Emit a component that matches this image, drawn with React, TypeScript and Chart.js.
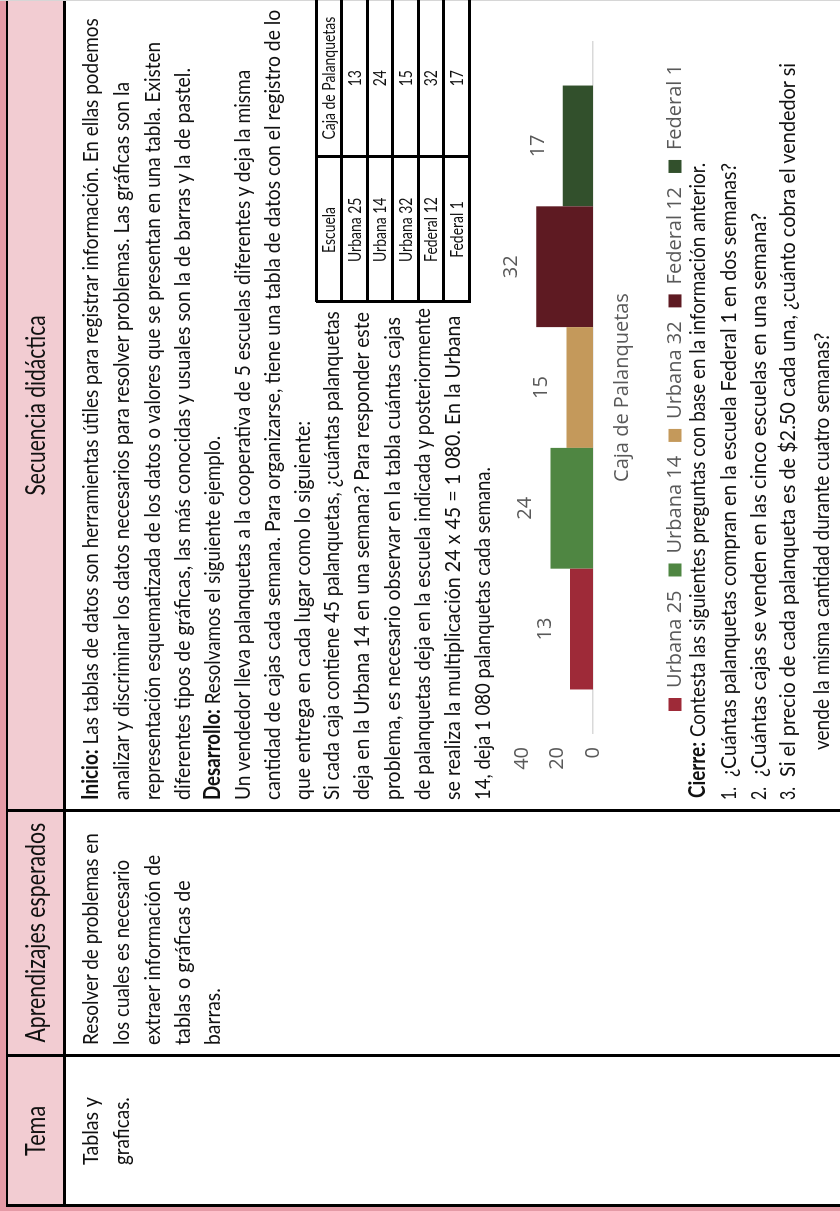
import React, { useEffect, useLayoutEffect, useRef, useState } from "react";
import { Chart, registerables } from "chart.js";

Chart.register(...registerables);

// ---------- data ----------
const schools = ["Urbana 25", "Urbana 14", "Urbana 32", "Federal 12", "Federal 1"];
const boxesPerWeek = [13, 24, 15, 32, 17];
const categoryLabels = ["Caja de Palanquetas"];
const yTickValues = [0, 20, 40];
const tableHeader = ["Escuela", "Caja de Palanquetas"];
const barColors = ["#9E2A38", "#4F8642", "#C4995B", "#5E1A22", "#32502C"];

const FONT = '"Lato", "Open Sans", sans-serif';
const CHART_FONT = '"Open Sans", sans-serif';
const GRAY = "#595959";

type TxtProps = {
  x: number;
  y: number;
  w?: number;
  size?: number;
  k?: number;
  center?: boolean;
  lh?: number;
  children: React.ReactNode;
};

function Txt({ x, y, w, size = 22, k = 0.78, center = false, lh = 30, children }: TxtProps) {
  const ref = useRef<HTMLSpanElement>(null);
  const [s, setS] = useState<number>(k);
  useLayoutEffect(() => {
    let alive = true;
    const fit = () => {
      if (!alive) return;
      if (w && ref.current) {
        const nat = ref.current.offsetWidth;
        if (nat > 0) setS(w / nat);
      }
    };
    fit();
    const f = (document as any).fonts;
    if (f && f.ready) f.ready.then(fit);
    return () => {
      alive = false;
    };
  }, [w]);
  const spanStyle: React.CSSProperties = {
    display: "inline-block",
    fontSize: size,
    transform: `scaleX(${s})`,
    transformOrigin: center ? "50% 50%" : "0 50%",
  };
  if (center) {
    return (
      <div
        style={{
          position: "absolute",
          left: x - 300,
          width: 600,
          top: y - lh / 2,
          height: lh,
          lineHeight: lh + "px",
          textAlign: "center",
          whiteSpace: "nowrap",
        }}
      >
        <span ref={ref} style={spanStyle}>
          {children}
        </span>
      </div>
    );
  }
  return (
    <div
      style={{
        position: "absolute",
        left: x,
        top: y - lh / 2,
        height: lh,
        lineHeight: lh + "px",
        whiteSpace: "nowrap",
      }}
    >
      <span ref={ref} style={spanStyle}>
        {children}
      </span>
    </div>
  );
}

function Rect({ x, y, w, h, c }: { x: number; y: number; w: number; h: number; c: string }) {
  return <div style={{ position: "absolute", left: x, top: y, width: w, height: h, background: c }} />;
}

function BarChart() {
  const ref = useRef<HTMLCanvasElement>(null);
  useEffect(() => {
    if (!ref.current) return;
    let alive = true;
    const valueLabels = {
      id: "valueLabels",
      afterDatasetsDraw(chart: any) {
        const { ctx } = chart;
        ctx.save();
        ctx.font = `20px ${CHART_FONT}`;
        ctx.fillStyle = GRAY;
        ctx.textAlign = "center";
        ctx.textBaseline = "middle";
        chart.data.datasets.forEach((ds: any, i: number) => {
          const meta = chart.getDatasetMeta(i);
          meta.data.forEach((el: any, j: number) => {
            ctx.fillText(String(ds.data[j]), el.x, el.y - 25);
          });
        });
        ctx.restore();
      },
    };
    const chart = new Chart(ref.current, {
      type: "bar",
      data: {
        labels: categoryLabels,
        datasets: schools.map((s, i) => ({
          label: s,
          data: [boxesPerWeek[i]],
          backgroundColor: barColors[i],
          borderWidth: 0,
          categoryPercentage: 0.874,
          barPercentage: 1,
        })),
      },
      options: {
        animation: false,
        responsive: true,
        maintainAspectRatio: false,
        layout: { padding: { top: 32, left: 0, right: 0, bottom: 0 } },
        plugins: {
          legend: {
            position: "bottom",
            labels: {
              boxWidth: 13,
              boxHeight: 13,
              padding: 14,
              color: GRAY,
              font: { family: CHART_FONT, size: 20 },
            },
          },
          tooltip: { enabled: false },
        },
        scales: {
          x: {
            grid: { display: false, drawTicks: false },
            border: { display: true, color: "#d9d9d9", width: 1.5 },
            ticks: { color: GRAY, font: { family: CHART_FONT, size: 20 }, padding: 17, maxRotation: 0 },
          },
          y: {
            min: 0,
            max: 40,
            afterBuildTicks: (s: any) => {
              s.ticks = yTickValues.map((v) => ({ value: v }));
            },
            grid: { display: false, drawTicks: false },
            border: { display: false },
            ticks: { color: GRAY, font: { family: CHART_FONT, size: 20 }, padding: 14 },
            afterFit: (s: any) => {
              s.width = 37;
            },
          },
          y2: {
            position: "right",
            grid: { display: false, drawTicks: false },
            border: { display: false },
            ticks: { display: false },
            afterFit: (s: any) => {
              s.width = 37;
            },
          },
        },
      } as any,
      plugins: [valueLabels],
    });
    const f = (document as any).fonts;
    if (f && f.ready)
      f.ready.then(() => {
        if (alive) chart.update();
      });
    return () => {
      alive = false;
      chart.destroy();
    };
  }, []);
  return (
    <div style={{ position: "absolute", left: 441, top: 490, width: 765, height: 205 }}>
      <canvas ref={ref} />
    </div>
  );
}

function DataTable() {
  const rowsY = [316, 341, 367, 392, 418, 443, 469];
  const x0 = 909;
  const xm = 1054;
  const x1 = 1211;
  const rows = [tableHeader, ...schools.map((s, i) => [s, String(boxesPerWeek[i])])];
  return (
    <>
      {rowsY.map((y, i) => (
        <Rect key={"h" + i} x={x0} y={y - 1} w={x1 - x0} h={i === 0 || i === rowsY.length - 1 ? 3 : 2.5} c="#000" />
      ))}
      <Rect x={x0 - 1} y={rowsY[0]} w={3} h={rowsY[6] - rowsY[0] + 2} c="#000" />
      <Rect x={xm - 1} y={rowsY[0]} w={3} h={rowsY[6] - rowsY[0] + 2} c="#000" />
      {rows.map((r, i) => {
        const yc = (rowsY[i] + rowsY[i + 1]) / 2;
        return (
          <React.Fragment key={"r" + i}>
            <Txt x={(x0 + xm) / 2} y={yc} size={17} k={0.82} center lh={25}>
              {r[0]}
            </Txt>
            <Txt x={(xm + x1) / 2} y={yc} size={17} k={0.82} center lh={25}>
              {r[1]}
            </Txt>
          </React.Fragment>
        );
      })}
    </>
  );
}

export default function App() {
  const X = 411;
  return (
    <div
      style={{
        position: "fixed",
        left: 0,
        top: 0,
        width: 1211,
        height: 840,
        transformOrigin: "0 0",
        transform: "translateY(1211px) rotate(-90deg)",
        fontFamily: FONT,
        color: "#111",
        background: "#fff",
        overflow: "hidden",
      }}
    >
      {/* frame */}
      <Rect x={0} y={0} w={1211} h={840} c="#fff" />
      <Rect x={0} y={0} w={1211} h={6} c="#E59AA6" />
      <Rect x={0} y={0} w={5} h={840} c="#E59AA6" />
      <Rect x={6} y={8} w={1205} h={56} c="#F2CCD2" />
      <Rect x={5} y={6} w={1206} h={2} c="#000" />
      <Rect x={5} y={63} w={1206} h={3} c="#000" />
      <Rect x={4} y={6} w={2.5} h={834} c="#000" />
      <Rect x={153.5} y={6} w={3} h={834} c="#000" />
      <Rect x={398.5} y={6} w={3} h={834} c="#000" />
      <Rect x={1210} y={0} w={1} h={840} c="#d6d6d6" />

      {/* headers */}
      <Txt x={80} y={35} w={50} size={26} center>
        Tema
      </Txt>
      <Txt x={278} y={35} w={220} size={26} center>
        Aprendizajes esperados
      </Txt>
      <Txt x={806} y={35} w={180} size={26} center>
        Secuencia didáctica
      </Txt>

      {/* Tema */}
      <Txt x={46} y={90} w={68}>Tablas y</Txt>
      <Txt x={46} y={121} w={68}>graficas.</Txt>

      {/* Aprendizajes */}
      <Txt x={166} y={90} w={212}>Resolver de problemas en</Txt>
      <Txt x={166} y={121} w={185}>los cuales es necesario</Txt>
      <Txt x={166} y={152} w={190}>extraer información de</Txt>
      <Txt x={166} y={182} w={165}>tablas o gráficas de</Txt>
      <Txt x={166} y={212} w={57}>barras.</Txt>

      {/* Secuencia */}
      <Txt x={X} y={90} w={782}>
        <b>Inicio:</b> Las tablas de datos son herramientas útiles para registrar información. En ellas podemos
      </Txt>
      <Txt x={X} y={121} w={718}>
        analizar y discriminar los datos necesarios para resolver problemas. Las gráficas son la
      </Txt>
      <Txt x={X} y={152} w={758}>
        representación esquematizada de los datos o valores que se presentan en una tabla. Existen
      </Txt>
      <Txt x={X} y={182} w={732}>
        diferentes tipos de gráficas, las más conocidas y usuales son la de barras y la de pastel.
      </Txt>
      <Txt x={X} y={212} w={364}>
        <b>Desarrollo:</b> Resolvamos el siguiente ejemplo.
      </Txt>
      <Txt x={X} y={242} w={730}>
        Un vendedor lleva palanquetas a la cooperativa de 5 escuelas diferentes y deja la misma
      </Txt>
      <Txt x={X} y={272} w={790}>
        cantidad de cajas cada semana. Para organizarse, tiene una tabla de datos con el registro de lo
      </Txt>
      <Txt x={X} y={302} w={379}>
        que entrega en cada lugar como lo siguiente:
      </Txt>
      <Txt x={X} y={331} w={489}>
        Si cada caja contiene 45 palanquetas, ¿cuántas palanquetas
      </Txt>
      <Txt x={X} y={361} w={488}>
        deja en la Urbana 14 en una semana? Para responder este
      </Txt>
      <Txt x={X} y={392} w={483}>
        problema, es necesario observar en la tabla cuántas cajas
      </Txt>
      <Txt x={X} y={422} w={492}>
        de palanquetas deja en la escuela indicada y posteriormente
      </Txt>
      <Txt x={X} y={452} w={484}>
        se realiza la multiplicación 24 x 45 = 1 080. En la Urbana
      </Txt>
      <Txt x={X} y={482} w={333}>
        14, deja 1 080 palanquetas cada semana.
      </Txt>

      <DataTable />
      <BarChart />

      {/* Cierre */}
      <Txt x={413} y={697} w={635}>
        <b>Cierre:</b> Contesta las siguientes preguntas con base en la información anterior.
      </Txt>
      <Txt x={411} y={728} w={13}>1.</Txt>
      <Txt x={434} y={728} w={614}>
        ¿Cuántas palanquetas compran en la escuela Federal 1 en dos semanas?
      </Txt>
      <Txt x={411} y={758} w={13}>2.</Txt>
      <Txt x={434} y={758} w={564}>
        ¿Cuántas cajas se venden en las cinco escuelas en una semana?
      </Txt>
      <Txt x={411} y={787} w={13}>3.</Txt>
      <Txt x={434} y={787} w={714}>
        Si el precio de cada palanqueta es de $2.50 cada una, ¿cuánto cobra el vendedor si
      </Txt>
      <Txt x={461} y={821} w={417}>
        vende la misma cantidad durante cuatro semanas?
      </Txt>
    </div>
  );
}
